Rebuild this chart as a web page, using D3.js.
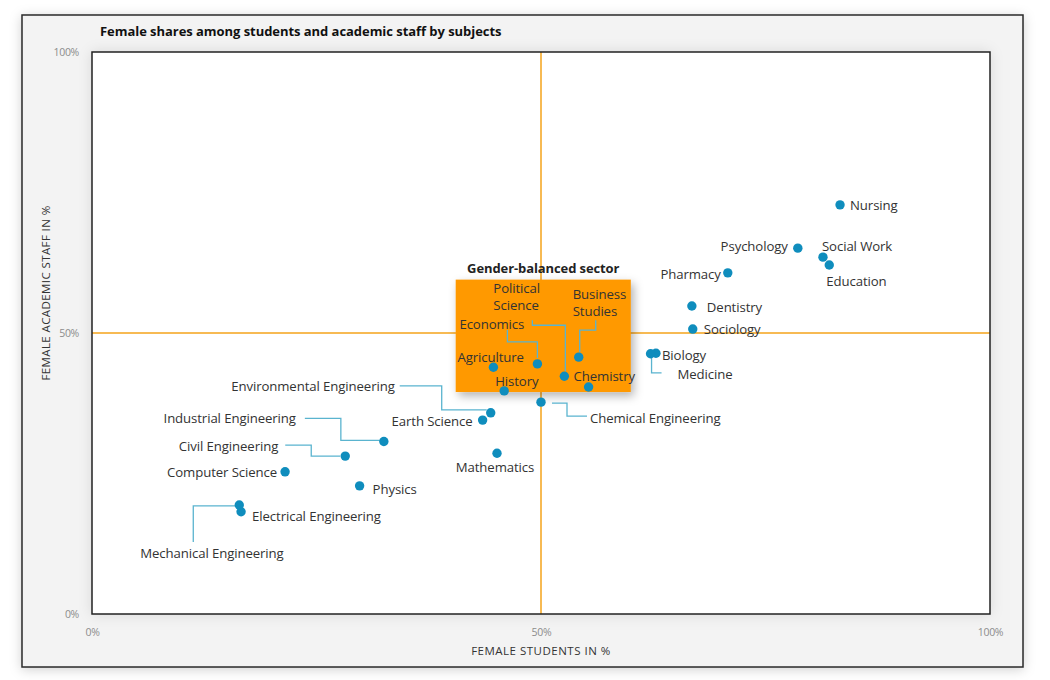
<!DOCTYPE html>
<html>
<head>
<meta charset="utf-8">
<script src="https://cdn.jsdelivr.net/npm/d3@7"></script>
<style>
  html, body { margin: 0; padding: 0; background: #ffffff; }
  svg { display: block; font-family: "Open Sans", "Noto Sans", sans-serif; }
</style>
</head>
<body>
<svg id="chart" width="1050" height="680"></svg>
<script>
// ---------- data ----------
const subjects = [
  "Nursing", "Psychology", "Social Work", "Education", "Pharmacy", "Dentistry",
  "Sociology", "Biology", "Medicine", "Political Science", "Business Studies",
  "Economics", "Agriculture", "History", "Chemistry", "Chemical Engineering",
  "Environmental Engineering", "Earth Science", "Mathematics",
  "Industrial Engineering", "Civil Engineering", "Computer Science", "Physics",
  "Electrical Engineering", "Mechanical Engineering"
];
const femaleStudents = [
  83.3, 78.6, 81.4, 82.1, 70.8, 66.8,
  66.9, 62.8, 62.2, 52.6, 54.2,
  49.6, 44.7, 45.9, 55.3, 50.0,
  44.4, 43.5, 45.1,
  32.5, 28.2, 21.5, 29.8,
  16.6, 16.4
];
const femaleStaff = [
  72.8, 65.1, 63.5, 62.1, 60.7, 54.8,
  50.7, 46.4, 46.3, 42.3, 45.7,
  44.5, 43.9, 39.7, 40.4, 37.7,
  35.8, 34.5, 28.6,
  30.7, 28.1, 25.3, 22.8,
  18.2, 19.4
];
const xTickValues = [0, 50, 100];
const yTickValues = [0, 50, 100];
const tickLabels = ["0%", "50%", "100%"];
const balancedSector = { x0: 40.5, x1: 60, y0: 39.5, y1: 59.5 };
const titleText = "Female shares among students and academic staff by subjects";
const xTitle = "FEMALE STUDENTS IN %";
const yTitle = "FEMALE ACADEMIC STAFF IN %";
const sectorTitle = "Gender-balanced sector";

// ---------- label layout (pixel offsets from the dot) ----------
const labelLayout = {
  "Nursing": { dx: 10, dy: 0, anchor: "start" },
  "Psychology": { dx: -10, dy: -2, anchor: "end" },
  "Social Work": { dx: -1, dy: -11, anchor: "start" },
  "Education": { dx: -3, dy: 16, anchor: "start" },
  "Pharmacy": { dx: -7, dy: 1, anchor: "end" },
  "Dentistry": { dx: 15, dy: 1, anchor: "start" },
  "Sociology": { dx: 11, dy: 0, anchor: "start" },
  "Biology": { dx: 6, dy: 2, anchor: "start" },
  "Medicine": { dx: 27, dy: 20, anchor: "start", leader: [[1,1],[1,19],[11,19]] },
  "Political Science": { dx: -71, dy: -88, anchor: "start", lines: ["Political", "Science"],
      leader: [[-32,-56],[-32,-51],[1,-51],[1,-5]] },
  "Business Studies": { dx: -6, dy: -63, anchor: "start", lines: ["Business", "Studies"],
      leader: [[17,-37],[17,-27],[1,-27],[1,-5]] },
  "Economics": { dx: -78, dy: -40, anchor: "start", leader: [[-30,-34],[-30,-22],[0,-22],[0,-6]] },
  "Agriculture": { dx: -36, dy: -10, anchor: "start" },
  "History": { dx: -9, dy: -10, anchor: "start" },
  "Chemistry": { dx: -15, dy: -11, anchor: "start" },
  "Chemical Engineering": { dx: 49, dy: 16, anchor: "start", leader: [[11,1],[26,1],[26,14],[46,14]] },
  "Environmental Engineering": { dx: -96, dy: -27, anchor: "end", leader: [[-91,-27],[-49,-27],[-49,-3],[-4,-3]] },
  "Earth Science": { dx: -10, dy: 1, anchor: "end" },
  "Mathematics": { dx: -2, dy: 14, anchor: "middle" },
  "Industrial Engineering": { dx: -88, dy: -23, anchor: "end", leader: [[-79,-23],[-43,-23],[-43,-1],[-4,-1]] },
  "Civil Engineering": { dx: -67, dy: -10, anchor: "end", leader: [[-60,-11],[-34,-11],[-34,0],[-5,0]] },
  "Computer Science": { dx: -8, dy: 0, anchor: "end" },
  "Physics": { dx: 13, dy: 3, anchor: "start" },
  "Electrical Engineering": { dx: 11, dy: 4, anchor: "start" },
  "Mechanical Engineering": { dx: -99, dy: 48, anchor: "start", leader: [[-2,1],[-46,1],[-46,37]] }
};

// ---------- chart ----------
const svg = d3.select("#chart");
const plot = { left: 92, right: 990, top: 52, bottom: 614 };

const defs = svg.append("defs");
const f1 = defs.append("filter").attr("id", "frameShadow")
  .attr("x", "-5%").attr("y", "-5%").attr("width", "110%").attr("height", "110%");
f1.append("feDropShadow").attr("dx", 0).attr("dy", 2).attr("stdDeviation", 6)
  .attr("flood-color", "#000").attr("flood-opacity", 0.18);
const f2 = defs.append("filter").attr("id", "plotShadow")
  .attr("x", "-5%").attr("y", "-5%").attr("width", "110%").attr("height", "110%");
f2.append("feDropShadow").attr("dx", 0).attr("dy", 0).attr("stdDeviation", 7)
  .attr("flood-color", "#000").attr("flood-opacity", 0.12);
const f3 = defs.append("filter").attr("id", "boxShadow")
  .attr("x", "-20%").attr("y", "-20%").attr("width", "140%").attr("height", "140%");
f3.append("feDropShadow").attr("dx", 3).attr("dy", 4).attr("stdDeviation", 5)
  .attr("flood-color", "#000").attr("flood-opacity", 0.3);

// outer frame
svg.append("rect")
  .attr("x", 22).attr("y", 15).attr("width", 1001).attr("height", 652)
  .attr("fill", "#f3f3f3").attr("stroke", "#2a2a2a").attr("stroke-width", 1.5)
  .attr("filter", "url(#frameShadow)");

// title
svg.append("text")
  .attr("x", 100).attr("y", 36)
  .attr("font-size", 13).attr("font-weight", 700).attr("fill", "#111")
  .attr("letter-spacing", -0.05)
  .text(titleText);

// plot area
svg.append("rect")
  .attr("x", plot.left).attr("y", plot.top)
  .attr("width", plot.right - plot.left).attr("height", plot.bottom - plot.top)
  .attr("fill", "#ffffff").attr("filter", "url(#plotShadow)");

const x = d3.scaleLinear().domain([0, 100]).range([plot.left, plot.right]);
const y = d3.scaleLinear().domain([0, 100]).range([plot.bottom, plot.top]);

// axes (tick labels only)
const xAxis = d3.axisBottom(x).tickValues(xTickValues)
  .tickFormat((d, i) => tickLabels[i]).tickSize(0).tickPadding(15);
const gx = svg.append("g").attr("transform", `translate(0,${plot.bottom})`).call(xAxis);
gx.select(".domain").remove();
gx.selectAll("text").attr("font-size", 10.5).attr("fill", "#8c8c8c")
  .attr("font-family", "'Open Sans', sans-serif").attr("letter-spacing", -0.3);

const yAxis = d3.axisLeft(y).tickValues(yTickValues)
  .tickFormat((d, i) => tickLabels[i]).tickSize(0).tickPadding(13);
const gy = svg.append("g").attr("transform", `translate(${plot.left},0)`).call(yAxis);
gy.select(".domain").remove();
gy.selectAll("text").attr("font-size", 10.5).attr("fill", "#8c8c8c")
  .attr("font-family", "'Open Sans', sans-serif").attr("letter-spacing", -0.3);

// axis titles
svg.append("text")
  .attr("x", x(50)).attr("y", 655).attr("text-anchor", "middle")
  .attr("font-size", 11.5).attr("fill", "#333").attr("letter-spacing", 0.5)
  .text(xTitle);
svg.append("text")
  .attr("transform", `translate(45,293) rotate(-90)`)
  .attr("text-anchor", "middle").attr("dominant-baseline", "central")
  .attr("font-size", 11.5).attr("fill", "#333").attr("letter-spacing", 0.4)
  .text(yTitle);

// 50% reference lines
svg.append("line")
  .attr("x1", x(50)).attr("x2", x(50)).attr("y1", plot.top).attr("y2", plot.bottom)
  .attr("stroke", "#f5a31a").attr("stroke-width", 1.5);
svg.append("line")
  .attr("x1", plot.left).attr("x2", plot.right).attr("y1", y(50)).attr("y2", y(50))
  .attr("stroke", "#f5a31a").attr("stroke-width", 1.5);

// plot border
svg.append("rect")
  .attr("x", plot.left).attr("y", plot.top)
  .attr("width", plot.right - plot.left).attr("height", plot.bottom - plot.top)
  .attr("fill", "none").attr("stroke", "#222").attr("stroke-width", 1.5);

// gender-balanced sector box
svg.append("rect")
  .attr("x", x(balancedSector.x0)).attr("y", y(balancedSector.y1))
  .attr("width", x(balancedSector.x1) - x(balancedSector.x0))
  .attr("height", y(balancedSector.y0) - y(balancedSector.y1))
  .attr("fill", "#ff9900").attr("filter", "url(#boxShadow)");
svg.append("text")
  .attr("x", (x(balancedSector.x0) + x(balancedSector.x1)) / 2)
  .attr("y", y(balancedSector.y1) - 7)
  .attr("text-anchor", "middle")
  .attr("font-size", 13).attr("font-weight", 700).attr("fill", "#222")
  .attr("letter-spacing", -0.1)
  .text(sectorTitle);

const data = subjects.map((s, i) => ({ name: s, xs: femaleStudents[i], ys: femaleStaff[i] }));

// leader lines
const line = d3.line();
svg.append("g").selectAll("path")
  .data(data.filter(d => labelLayout[d.name].leader))
  .join("path")
  .attr("d", d => {
    const cx = x(d.xs), cy = y(d.ys);
    return line(labelLayout[d.name].leader.map(p => [cx + p[0], cy + p[1]]));
  })
  .attr("fill", "none").attr("stroke", "#5ab4cf").attr("stroke-width", 1.3);

// dots
svg.append("g").selectAll("circle")
  .data(data).join("circle")
  .attr("cx", d => x(d.xs)).attr("cy", d => y(d.ys)).attr("r", 4.7)
  .attr("fill", "#0f8dbd");

// labels
const labels = svg.append("g").selectAll("text")
  .data(data).join("text")
  .attr("x", d => x(d.xs) + labelLayout[d.name].dx)
  .attr("y", d => y(d.ys) + labelLayout[d.name].dy)
  .attr("text-anchor", d => labelLayout[d.name].anchor)
  .attr("dominant-baseline", "central")
  .attr("font-size", 13.2).attr("fill", "#333").attr("letter-spacing", -0.1);
labels.each(function(d) {
  const L = labelLayout[d.name];
  const t = d3.select(this);
  if (L.lines) {
    L.lines.forEach((ln, i) => {
      t.append("tspan").attr("x", x(d.xs) + L.dx).attr("dy", i === 0 ? 0 : 17).text(ln);
    });
  } else {
    t.text(d.name);
  }
});
</script>
</body>
</html>
